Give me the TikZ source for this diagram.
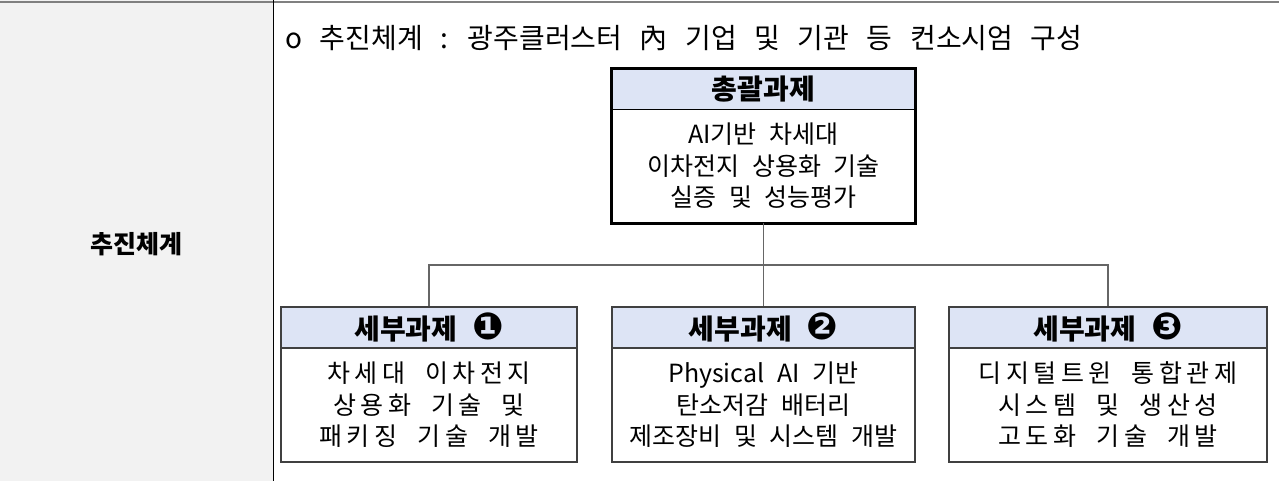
\documentclass[tikz,border=0pt]{standalone}
\usepackage{fontspec}
\setmainfont{Noto Sans CJK KR}[WordSpace=2.3]
\newfontfamily\kosp{Noto Sans CJK KR}[LetterSpace=18,WordSpace=2]
\newfontfamily\kohead{Noto Sans CJK KR}[WordSpace=2.8]
\newfontfamily\dv{DejaVu Sans}
\newcommand{\dingnum}[1]{{\dv\fontsize{28}{25}\selectfont #1}}
\definecolor{headblue}{HTML}{DDE4F5}
\definecolor{leftgray}{HTML}{F2F2F2}
\definecolor{boxline}{HTML}{404040}
\definecolor{connline}{HTML}{666666}
\tikzset{
  tophd/.style={fill=headblue, minimum width=227.25pt, minimum height=30pt, inner sep=0pt,
    font=\bfseries\fontsize{21}{25}\selectfont},
  topbd/.style={fill=white, minimum width=227.25pt, minimum height=85.5pt, inner sep=0pt,
    align=center, font=\fontsize{18.75}{23.6}\selectfont},
  subhd/.style={fill=headblue, draw=boxline, line width=0.9pt, minimum height=30.75pt, inner sep=0pt,
    font=\bfseries\fontsize{21}{25}\selectfont},
  subbd/.style={fill=white, draw=boxline, line width=0.9pt, minimum height=85.5pt, inner sep=0pt,
    align=center, font=\fontsize{18.75}{23.6}\selectfont},
  conn/.style={draw=connline, line width=0.8pt},
}
\begin{document}
\begin{tikzpicture}[x=0.75pt,y=-0.75pt]
\useasboundingbox (0,0) rectangle (1279,481);
\fill[leftgray] (0,0) rectangle (273,481);
\draw[gray, line width=1.2pt] (0,2) -- (1279,2);
\draw[black, line width=0.75pt] (273,0) -- (273,481);

\node[font=\bfseries\fontsize{18.75}{22}\selectfont] (lbl) at (136,244) {추진체계};

\node[anchor=base west, font=\kohead\fontsize{21}{25}\selectfont, inner sep=0pt] (head) at (285,49)
  {o 추진체계 : 광주클러스터 內 기업 및 기관 등 컨소시엄 구성};

% top box
\node[tophd] (tophead) at (763.5,89) {총괄과제};
\node[topbd] (topbody) at (763.5,166) {AI기반 차세대\\이차전지 상용화 기술\\실증 및 성능평가};
\draw[black, line width=1.1pt] (tophead.south west) -- (tophead.south east);
\draw[black, line width=1.9pt] (tophead.north west) rectangle (topbody.south east);

% sub boxes
\node[subhd, minimum width=222pt] (b1h) at (429,327.5) {세부과제 \dingnum{❶}};
\node[subbd, minimum width=222pt] (b1b) at (429,405) {\kosp 차세대 이차전지\\\kosp 상용화 기술 및\\\kosp 패키징 기술 개발};

\node[subhd, minimum width=227.25pt] (b2h) at (763.5,327.5) {세부과제 \dingnum{❷}};
\node[subbd, minimum width=227.25pt] (b2b) at (763.5,405) {Physical AI 기반\\탄소저감 배터리\\제조장비 및 시스템 개발};

\node[subhd, minimum width=238.5pt] (b3h) at (1108,327.5) {세부과제 \dingnum{❸}};
\node[subbd, minimum width=238.5pt] (b3b) at (1108,405) {\kosp 디지털트윈 통합관제\\\kosp 시스템 및 생산성\\\kosp 고도화 기술 개발};

% connectors
\coordinate (j) at (763.5,265);
\draw[conn] (topbody.south) -- (b2h.north);
\draw[conn] (b1h.north) -- (b1h.north |- j) -- (b3h.north |- j) -- (b3h.north);
\end{tikzpicture}
\end{document}
